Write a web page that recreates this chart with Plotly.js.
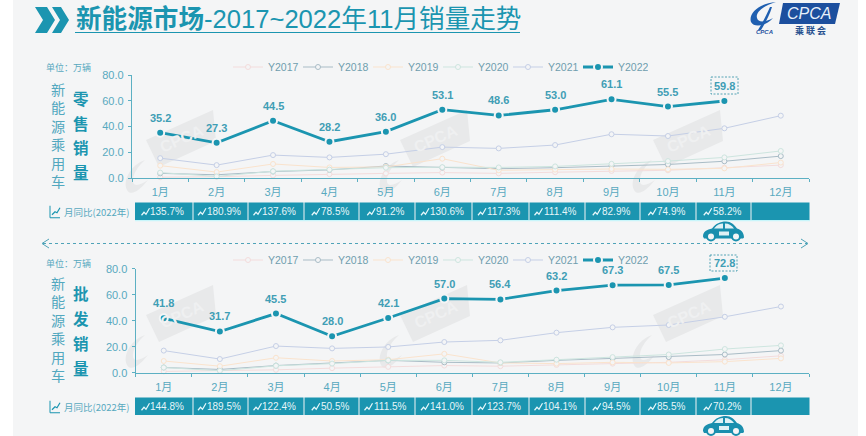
<!DOCTYPE html>
<html><head><meta charset="utf-8">
<script src="https://cdn.plot.ly/plotly-3.0.1.min.js"></script>
<style>html,body{margin:0;padding:0;background:#fff}#c{width:866px;height:436px}</style>
</head><body><div id="c"></div>
<script>
const months=['1月','2月','3月','4月','5月','6月','7月','8月','9月','10月','11月','12月'];
const yearNames=['Y2017','Y2018','Y2019','Y2020','Y2021','Y2022'];
const yTicks=[0,20,40,60,80];
const retail2017=[0.6,1,2,3,3.6,4.2,3.6,4.5,5.5,6,8,10];
const retail2018=[3.6,2.5,5,6.3,9.3,8.1,7.2,8,9.5,10.5,13,17];
const retail2019=[9.6,4.6,10.9,8.2,8.6,15,6,6.5,7,6.7,7.5,12];
const retail2020=[4.2,1.2,5.3,6.5,8,8.4,8.2,9,11,13.1,16,21];
const retail2021=[15.4,10,17.8,16,18.5,24,23,25.6,34,32.6,38.6,48.4];
const retail2022=[35.2,27.3,44.5,28.2,36.0,53.1,48.6,53.0,61.1,55.5,59.8,null];
const whole2017=[1,1.5,2.2,3.5,4.5,5.5,5,6,7,8,10,13];
const whole2018=[4,2.5,5.5,7.5,9.5,8,7.5,9.5,11,12,14,17];
const whole2019=[9,5,11.5,9,10,14.5,7.5,7,8,7.5,8.5,11];
const whole2020=[4,1.5,5.3,7,9.5,9.5,8,10,12,14,18.2,21];
const whole2021=[17,10.5,20.5,18.7,19.8,23.6,24.9,30.8,34.9,36.7,43,50.9];
const whole2022=[41.8,31.7,45.5,28.0,42.1,57.0,56.4,63.2,67.3,67.5,72.8,null];
const retailYoY=['135.7%','180.9%','137.6%','78.5%','91.2%','130.6%','117.3%','111.4%','82.9%','74.9%','58.2%',''];
const wholeYoY=['144.8%','189.5%','122.4%','50.5%','111.5%','141.0%','123.7%','104.1%','94.5%','85.5%','70.2%',''];
const retailSeries=[retail2017,retail2018,retail2019,retail2020,retail2021,retail2022];
const wholeSeries=[whole2017,whole2018,whole2019,whole2020,whole2021,whole2022];
const sideLabel=['新','能','源','乘','用','车'];
const retailLabel=['零','售','销','量'];
const wholeLabel=['批','发','销','量'];

const W=866,H=436,BG='#f4f5f6',TEAL='#1b95b0',TXT='#58a9bf',AX='#5cb0c3';
const SANS='"Liberation Sans","Noto Sans CJK SC",sans-serif';
const CJK='"Noto Sans CJK SC","Liberation Sans",sans-serif';
const fx=p=>p/W, fy=p=>1-p/H;
const lineCols=['#f3dcdc','#a9bcc6','#fae3cd','#cde5df','#c5cfe6',TEAL];
const cellEdges=[135,193,248,304,359,415,472,529,585,640,696,751,810];

const traces=[];
const shapes=[],ann=[];
function addPanel(series,xa,ya,leg){
  series.forEach((vals,i)=>{
    const main=i===5;
    traces.push({
      type:'scatter',x:months,y:vals,name:yearNames[i],xaxis:xa,yaxis:ya,legend:leg,
      mode:'lines+markers',
      line:{color:lineCols[i],width:main?2.8:1},
      marker:main?{size:8,color:TEAL,line:{color:BG,width:2}}
                 :{size:5,color:BG,line:{color:lineCols[i],width:1}},
      cliponaxis:false,hoverinfo:'skip'
    });
    if(main) vals.forEach((v,k)=>{ if(v==null) return;
      ann.push({xref:xa,yref:ya,x:months[k],y:v,yshift:15,text:v.toFixed(1),showarrow:false,xanchor:'center',yanchor:'middle',
        font:{family:SANS,size:11,color:'#3f9eb5',weight:700}});
    });
  });
}
addPanel(retailSeries,'x','y','legend');
addPanel(wholeSeries,'x2','y2','legend2');

function S(path,fill,extra){shapes.push(Object.assign({type:'path',xref:'paper',yref:'paper',path:path,fillcolor:fill,line:{width:0},layer:'below'},extra||{}));}
function P(pts){return 'M '+pts.map(p=>fx(p[0])+' '+fy(p[1])).join(' L ')+' Z';}
function C(d){return d.replace(/(-?\d+\.?\d*),(-?\d+\.?\d*)/g,(m,a,b)=>fx(+a)+','+fy(+b));}
function T(x,y,text,size,color,anchor,opt){
  ann.push(Object.assign({xref:'paper',yref:'paper',x:fx(x),y:fy(y),text:text,showarrow:false,
    xanchor:anchor||'center',yanchor:'middle',borderpad:0,
    font:{family:SANS,size:size,color:color}},opt||{}));
}
function V(x,y,text,size,color,bold){
  T(x,y,bold?'<b>'+text+'</b>':text,size,color,'center',{font:{family:CJK,size:size,color:color}});
}
shapes.push({type:'rect',xref:'paper',yref:'paper',x0:fx(13),x1:fx(858),y0:fy(0),y1:fy(436),fillcolor:BG,line:{width:0},layer:'below'});

// watermarks
const WM='#e8e9ea';
[[146,140],[400,140],[653,140],[146,315],[400,315],[653,315]].forEach(a=>{
  const [x,y]=a;
  S(P([[x,y],[x+67,y-30],[x+70,y+1],[x+13,y+27]]),WM);
  S(C(`M ${x-1},${y+20} C ${x-14},${y+24} ${x-24},${y+40} ${x-19},${y+50} C ${x-15},${y+57} ${x-6},${y+50} ${x+2},${y+40} C ${x-5},${y+45} ${x-12},${y+47} ${x-13},${y+42} C ${x-14},${y+35} ${x-8},${y+26} ${x-1},${y+20} Z`),WM);
  T(x+36,y-1,'<b>CPCA</b>',16,'#eff0f1','center',{textangle:-24});
});

// title
S(P([[35,7],[47,7],[55,20],[47,33],[35,33],[43,20]]),TEAL);
S(P([[52,7],[61,7],[69,20],[61,33],[52,33],[60,20]]),TEAL);
T(75,19,'<b>新能源市场</b>-2017~2022年11月销量走势',25.6,TEAL,'left');
shapes.push({type:'line',xref:'paper',yref:'paper',x0:fx(75),x1:fx(520),y0:fy(32.5),y1:fy(32.5),line:{color:TEAL,width:1.2}});

// logo
S(P([[783,3],[840,3],[835,24],[779,24]]),'#1c4f9e');
T(809,13.5,'<i>CPCA</i>',16,'#e8f0fa','center');
T(810,30.5,'<b>乘 联 会</b>',9,'#26508f','center',{font:{family:CJK,size:9,color:'#26508f'}});
S(C('M 776,2 C 760,3 748,13 751,22 C 754,28 766,26 773,18 C 766,22 758,23 757,18 C 755,11 766,5 776,2 Z'),'#1f5fb0');
S(C('M 770,7 C 767,14 763,22 758,30 L 761,30 C 766,22 770,14 772,7 Z'),'#1f5fb0');
T(764,31.5,'<b><i>CPCA</i></b>',6,'#1c4f9e','center');

// units
T(45,68,'单位：万辆',9,TXT,'left',{font:{family:CJK,size:9,color:TXT}});
T(45,263,'单位：万辆',9,TXT,'left',{font:{family:CJK,size:9,color:TXT}});

// stacked labels
V(58,135,sideLabel.join('<br>'),14.2,'#52a8bf');
V(58,329,sideLabel.join('<br>'),14.2,'#52a8bf');
retailLabel.forEach((c,i)=>V(81,98+i*24.6,c,15.5,TEAL,true));
wholeLabel.forEach((c,i)=>V(81,293+i*25,c,15.5,TEAL,true));

// table rows
function spark(x,y){
  shapes.push({type:'path',xref:'paper',yref:'paper',path:'M '+[[x,y+3],[x+2.5,y],[x+4.5,y+2],[x+8,y-4]].map(p=>fx(p[0])+' '+fy(p[1])).join(' L '),line:{color:'#e8f8fb',width:1.2},layer:'above'});
}
function addRow(labels,top,bot){
  labels.forEach((t,i)=>{
    const l=cellEdges[i],r=cellEdges[i+1];
    shapes.push({type:'rect',xref:'paper',yref:'paper',x0:fx(l+(i?0.5:0)),x1:fx(r-0.5),y0:fy(top),y1:fy(bot),fillcolor:TEAL,line:{width:0},layer:'above'});
    if(t){
      const c=(l+r)/2+3, w=t.length*5.5;
      T(c,(top+bot)/2+0.5,t,10,'#e6f6f9','center');
      spark(c-w/2-9,(top+bot)/2+1);
    }
  });
  const m=(top+bot)/2+0.5;
  T(63,m,'月同比(2022年)',9.5,TXT,'left',{font:{family:CJK,size:9.5,color:TXT}});
  shapes.push({type:'path',xref:'paper',yref:'paper',path:'M '+[[50,m-6],[50,m+6],[60,m+6]].map(p=>fx(p[0])+' '+fy(p[1])).join(' L '),line:{color:TEAL,width:1}});
  shapes.push({type:'path',xref:'paper',yref:'paper',path:'M '+[[52,m+3],[55,m],[57,m+1],[60,m-4]].map(p=>fx(p[0])+' '+fy(p[1])).join(' L '),line:{color:TEAL,width:1.2}});
}
addRow(retailYoY,202.5,220);
addRow(wholeYoY,397.5,415);
shapes.push({type:'line',xref:'paper',yref:'paper',x0:fx(135),x1:fx(810),y0:fy(220.7),y1:fy(220.7),line:{color:'#c8f6fb',width:1.2}});

// divider with arrows
shapes.push({type:'line',xref:'paper',yref:'paper',x0:fx(43),x1:fx(807),y0:fy(243.5),y1:fy(243.5),line:{color:'#4fa3b8',width:1,dash:'3px,3px'}});
['M '+[[49,239],[42,243.5],[49,248]].map(p=>fx(p[0])+' '+fy(p[1])).join(' L '),
 'M '+[[801,239],[808,243.5],[801,248]].map(p=>fx(p[0])+' '+fy(p[1])).join(' L ')].forEach(d=>
  shapes.push({type:'path',xref:'paper',yref:'paper',path:d,line:{color:'#4fa3b8',width:1}}));

// dashed boxes around last values
[[711,77,738,94],[710,255,737,271]].forEach(b=>shapes.push({type:'rect',xref:'paper',yref:'paper',x0:fx(b[0]),x1:fx(b[2]),y0:fy(b[1]),y1:fy(b[3]),line:{color:'#2f8fa6',width:0.8,dash:'2px,1.5px'}}));

// cars
function car(x,y){
  const col='#1a8fae';
  const add=(d,f)=>shapes.push({type:'path',xref:'paper',yref:'paper',path:C(d),fillcolor:f,line:{width:0},layer:'above'});
  add(`M ${x},${y+15} C ${x},${y+10} ${x+4},${y+8} ${x+9},${y+7} C ${x+13},${y+2} ${x+17},${y} ${x+23},${y} C ${x+28},${y} ${x+31},${y+3} ${x+34},${y+7} C ${x+38},${y+8} ${x+41},${y+11} ${x+41},${y+16} L ${x+40},${y+17} L ${x+1},${y+17} Z`,col);
  add(`M ${x+11},${y+7} C ${x+14},${y+3} ${x+17},${y+2} ${x+20},${y+2} L ${x+20},${y+7} Z`,'#dff1f5');
  add(`M ${x+22},${y+2} C ${x+26},${y+2} ${x+29},${y+4} ${x+31},${y+7} L ${x+22},${y+7} Z`,'#dff1f5');
  add(`M ${x+16},${y+10} L ${x+26},${y+10} L ${x+26},${y+14} L ${x+16},${y+14} Z`,'#dff1f5');
  [[x+8,y+15],[x+33,y+15]].forEach(c=>{
    shapes.push({type:'circle',xref:'paper',yref:'paper',x0:fx(c[0]-4),x1:fx(c[0]+4),y0:fy(c[1]-4),y1:fy(c[1]+4),fillcolor:BG,line:{color:col,width:2},layer:'above'});
  });
}
car(703,221.5);car(703,416);

const axBase={showgrid:false,zeroline:false,showline:true,linecolor:AX,linewidth:1.2,ticks:'outside',ticklen:3,tickwidth:1,tickcolor:AX,
  tickfont:{family:SANS,size:11,color:TXT}};
const xBase=Object.assign({},axBase,{type:'category',categoryorder:'array',categoryarray:months,range:[-0.5,11.5],tickson:'boundaries',fixedrange:true,ticklabelstandoff:4});
const yBase=Object.assign({},axBase,{range:[0,80],tickvals:yTicks,tickformat:'.1f',fixedrange:true,ticklabelstandoff:2});
const legBase={orientation:'h',xanchor:'left',yanchor:'middle',bgcolor:'rgba(0,0,0,0)',entrywidth:25,entrywidthmode:'pixels',itemwidth:30,traceorder:'normal',itemclick:false,itemdoubleclick:false,
  font:{family:SANS,size:10.5,color:'#6f9eae'}};

const layout={width:W,height:H,autosize:false,margin:{l:0,r:0,t:0,b:0},paper_bgcolor:'#fff',plot_bgcolor:'rgba(0,0,0,0)',
  showlegend:true,shapes:shapes,annotations:ann,
  xaxis:Object.assign({},xBase,{domain:[fx(132),fx(809)],anchor:'y'}),
  yaxis:Object.assign({},yBase,{domain:[fy(178),fy(75)],anchor:'x'}),
  xaxis2:Object.assign({},xBase,{domain:[fx(135.7),fx(809)],anchor:'y2'}),
  yaxis2:Object.assign({},yBase,{domain:[fy(372.7),fy(268.7)],anchor:'x2'}),
  legend:Object.assign({},legBase,{x:fx(228),y:fy(67)}),
  legend2:Object.assign({},legBase,{x:fx(228),y:fy(260)})
};
Plotly.newPlot('c',traces,layout,{displayModeBar:false,staticPlot:true});
</script></body></html>
